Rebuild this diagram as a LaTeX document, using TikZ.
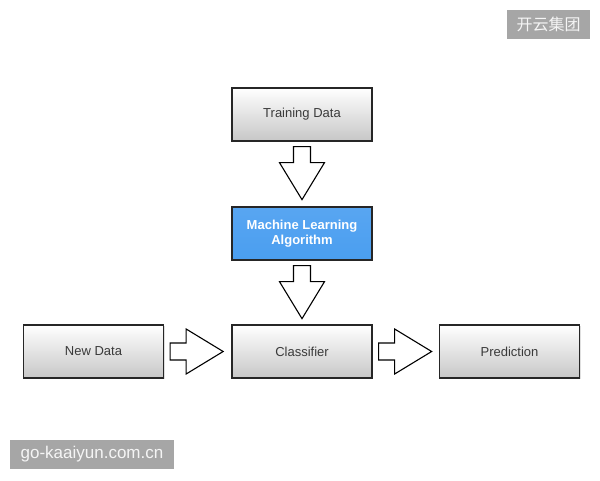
\documentclass[tikz,border=0pt]{standalone}
\usepackage{fontspec}
\setmainfont{Liberation Sans}
\newfontfamily\cjk{Noto Sans CJK SC}
\usetikzlibrary{calc,shadows}
\definecolor{boxtext}{HTML}{3A3A3A}
\definecolor{mlblue}{HTML}{4A9EF0}
\definecolor{wmgray}{HTML}{A6A6A6}
\begin{document}
\begin{tikzpicture}[x=1pt,y=-1pt,
  flowbox/.style={draw=black!85, line width=1.3pt, minimum width=140pt, minimum height=53pt,
    inner sep=0pt, top color=white, bottom color=black!22, text=boxtext,
    font=\fontsize{13}{15.5}\selectfont,
    drop shadow={opacity=0.25, shadow xshift=1pt, shadow yshift=-1.2pt}},
  mlbox/.style={flowbox, fill=mlblue, top color=mlblue!92!white, bottom color=mlblue, text=white,
    font=\fontsize{13}{15.5}\selectfont\bfseries, align=center},
  blockarrow/.style={draw=black, line width=1.1pt, fill=white, line join=miter},
  wmbox/.style={fill=wmgray, text=white!96!black, inner sep=0pt}]
\useasboundingbox[fill=white] (0,0) rectangle (600,480);

\node[flowbox] (td) at (302,114.5) {Training Data};
\node[mlbox] (ml) at (302,233.5) {Machine Learning\\Algorithm};
\node[flowbox] (cl) at (302,351.5) {Classifier};
\node[flowbox] (nd) at (93.5,351.5) {New Data};
\node[flowbox] (pr) at (509.5,351.5) {Prediction};

% block arrows (shaft length 16, head length 37, shaft half-width 9, head half-width 22)
\coordinate (a1) at ($(td.south)+(0,5)$);
\coordinate (a2) at ($(ml.south)+(0,5)$);
\coordinate (a3) at ($(nd.east)+(6,0)$);
\coordinate (a4) at ($(cl.east)+(6,0)$);
\foreach \c/\r in {a1/-90,a2/-90,a3/0,a4/0}{
  \draw[blockarrow, shift={(\c)}, rotate=\r]
    (0,-8.5) -- (16,-8.5) -- (16,-22.5) -- (53,0) -- (16,22.5) -- (16,8.5) -- (0,8.5) -- cycle;
}

% watermarks
\node[wmbox, minimum width=83pt, minimum height=29pt, font=\cjk\fontsize{16}{18}\selectfont] (wm1) at (548.5,24.5) {开云集团};
\node[wmbox, minimum width=164pt, minimum height=29pt, font=\fontsize{17}{19}\selectfont] (wm2) at (92,454.5) {go-kaaiyun.com.cn};
\end{tikzpicture}
\end{document}
